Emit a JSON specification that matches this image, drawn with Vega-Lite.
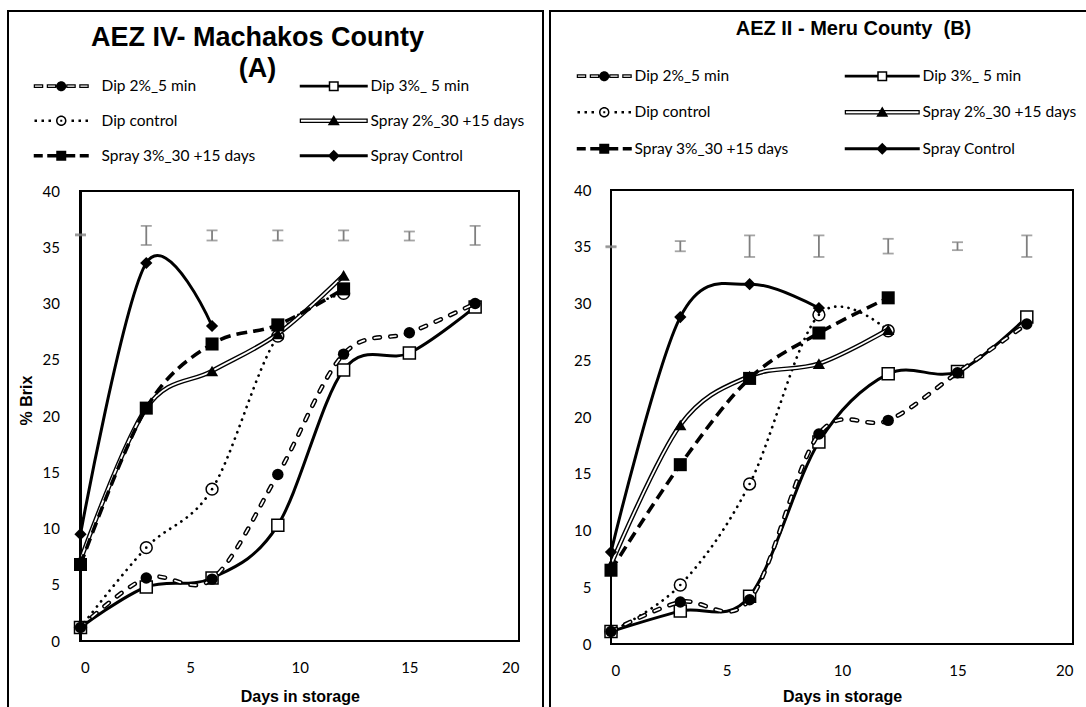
{
  "$schema": "https://vega.github.io/schema/vega-lite/v6.json",
  "padding": {"left": 7, "top": 10, "right": 0, "bottom": 0},
  "spacing": 5,
  "resolve": {"scale": {"shape": "independent"}, "legend": {"shape": "independent"}},
  "datasets": {
    "machakos": [
      {"series": "Dip 2%_5 min", "day": 0, "brix": 1.2},
      {"series": "Dip 2%_5 min", "day": 3, "brix": 5.6},
      {"series": "Dip 2%_5 min", "day": 6, "brix": 5.5},
      {"series": "Dip 2%_5 min", "day": 9, "brix": 14.8},
      {"series": "Dip 2%_5 min", "day": 12, "brix": 25.5},
      {"series": "Dip 2%_5 min", "day": 15, "brix": 27.4},
      {"series": "Dip 2%_5 min", "day": 18, "brix": 30.0},
      {"series": "Dip 3%_ 5 min", "day": 0, "brix": 1.2},
      {"series": "Dip 3%_ 5 min", "day": 3, "brix": 4.8},
      {"series": "Dip 3%_ 5 min", "day": 6, "brix": 5.6},
      {"series": "Dip 3%_ 5 min", "day": 9, "brix": 10.3},
      {"series": "Dip 3%_ 5 min", "day": 12, "brix": 24.1},
      {"series": "Dip 3%_ 5 min", "day": 15, "brix": 25.6},
      {"series": "Dip 3%_ 5 min", "day": 18, "brix": 29.7},
      {"series": "Dip control", "day": 0, "brix": 1.2},
      {"series": "Dip control", "day": 3, "brix": 8.3},
      {"series": "Dip control", "day": 6, "brix": 13.5},
      {"series": "Dip control", "day": 9, "brix": 27.1},
      {"series": "Dip control", "day": 12, "brix": 30.9},
      {"series": "Spray 2%_30 +15 days", "day": 0, "brix": 7.2},
      {"series": "Spray 2%_30 +15 days", "day": 3, "brix": 20.7},
      {"series": "Spray 2%_30 +15 days", "day": 6, "brix": 24.0},
      {"series": "Spray 2%_30 +15 days", "day": 9, "brix": 27.3},
      {"series": "Spray 2%_30 +15 days", "day": 12, "brix": 32.5},
      {"series": "Spray 3%_30 +15 days", "day": 0, "brix": 6.8},
      {"series": "Spray 3%_30 +15 days", "day": 3, "brix": 20.7},
      {"series": "Spray 3%_30 +15 days", "day": 6, "brix": 26.4},
      {"series": "Spray 3%_30 +15 days", "day": 9, "brix": 28.1},
      {"series": "Spray 3%_30 +15 days", "day": 12, "brix": 31.3},
      {"series": "Spray Control", "day": 0, "brix": 9.5},
      {"series": "Spray Control", "day": 3, "brix": 33.6},
      {"series": "Spray Control", "day": 6, "brix": 28.0}
    ],
    "machakos_err": [
      {"day": 0, "low": 36.05, "high": 36.15},
      {"day": 3, "low": 35.2, "high": 36.9},
      {"day": 6, "low": 35.6, "high": 36.5},
      {"day": 9, "low": 35.6, "high": 36.5},
      {"day": 12, "low": 35.6, "high": 36.5},
      {"day": 15, "low": 35.6, "high": 36.4},
      {"day": 18, "low": 35.2, "high": 36.9}
    ],
    "meru": [
      {"series": "Dip 2%_5 min", "day": 0, "brix": 1.1},
      {"series": "Dip 2%_5 min", "day": 3, "brix": 3.7},
      {"series": "Dip 2%_5 min", "day": 6, "brix": 3.9},
      {"series": "Dip 2%_5 min", "day": 9, "brix": 18.5},
      {"series": "Dip 2%_5 min", "day": 12, "brix": 19.7},
      {"series": "Dip 2%_5 min", "day": 15, "brix": 23.9},
      {"series": "Dip 2%_5 min", "day": 18, "brix": 28.2},
      {"series": "Dip 3%_ 5 min", "day": 0, "brix": 1.1},
      {"series": "Dip 3%_ 5 min", "day": 3, "brix": 2.9},
      {"series": "Dip 3%_ 5 min", "day": 6, "brix": 4.2},
      {"series": "Dip 3%_ 5 min", "day": 9, "brix": 17.8},
      {"series": "Dip 3%_ 5 min", "day": 12, "brix": 23.8},
      {"series": "Dip 3%_ 5 min", "day": 15, "brix": 24.0},
      {"series": "Dip 3%_ 5 min", "day": 18, "brix": 28.8},
      {"series": "Dip control", "day": 0, "brix": 1.1},
      {"series": "Dip control", "day": 3, "brix": 5.2},
      {"series": "Dip control", "day": 6, "brix": 14.1},
      {"series": "Dip control", "day": 9, "brix": 29.0},
      {"series": "Dip control", "day": 12, "brix": 27.6},
      {"series": "Spray 2%_30 +15 days", "day": 0, "brix": 7.0},
      {"series": "Spray 2%_30 +15 days", "day": 3, "brix": 19.3},
      {"series": "Spray 2%_30 +15 days", "day": 6, "brix": 23.6},
      {"series": "Spray 2%_30 +15 days", "day": 9, "brix": 24.7},
      {"series": "Spray 2%_30 +15 days", "day": 12, "brix": 27.7},
      {"series": "Spray 3%_30 +15 days", "day": 0, "brix": 6.5},
      {"series": "Spray 3%_30 +15 days", "day": 3, "brix": 15.8},
      {"series": "Spray 3%_30 +15 days", "day": 6, "brix": 23.4},
      {"series": "Spray 3%_30 +15 days", "day": 9, "brix": 27.4},
      {"series": "Spray 3%_30 +15 days", "day": 12, "brix": 30.5},
      {"series": "Spray Control", "day": 0, "brix": 8.1},
      {"series": "Spray Control", "day": 3, "brix": 28.8},
      {"series": "Spray Control", "day": 6, "brix": 31.7},
      {"series": "Spray Control", "day": 9, "brix": 29.6}
    ],
    "meru_err": [
      {"day": 0, "low": 34.95, "high": 35.05},
      {"day": 3, "low": 34.6, "high": 35.5},
      {"day": 6, "low": 34.1, "high": 36.0},
      {"day": 9, "low": 34.1, "high": 36.0},
      {"day": 12, "low": 34.4, "high": 35.7},
      {"day": 15, "low": 34.7, "high": 35.4},
      {"day": 18, "low": 34.1, "high": 36.0}
    ]
  },
  "hconcat": [
    {
      "width": 535,
      "height": 700,
      "title": {"text": ["AEZ IV- Machakos County", "(A)"], "frame": "group", "anchor": "middle", "offset": -72, "dx": -18, "fontSize": 27, "lineHeight": 31, "font": "Liberation Sans", "fontWeight": "bold", "color": "black"},
      "data": {"name": "machakos"},
      "encoding": {
        "x": {"field": "day", "type": "quantitative",
              "scale": {"domain": [0, 20], "range": [72.5, 511], "nice": false, "zero": false},
              "axis": {"orient": "bottom", "offset": -70, "values": [0, 5, 10, 15, 20], "labelPadding": 19, "title": "Days in storage", "titlePadding": 13}},
        "y": {"field": "brix", "type": "quantitative",
              "scale": {"domain": [0, 40], "range": [630, 180], "nice": false},
              "axis": {"orient": "left", "offset": -72.5, "values": [0, 5, 10, 15, 20, 25, 30, 35, 40], "labelPadding": 21, "title": "% Brix", "titlePadding": 8, "titleY": 389}}
      },
      "layer": [
        {"mark": {"type": "rect", "fillOpacity": 0, "stroke": "black", "strokeWidth": 2},
         "encoding": {
           "x": {"datum": 0, "type": "quantitative", "scale": {"domain": [0, 20], "range": [72.5, 511], "nice": false, "zero": false},
                 "axis": {"orient": "bottom", "offset": -70, "values": [0, 5, 10, 15, 20], "labelPadding": 19, "title": "Days in storage", "titlePadding": 13}},
           "x2": {"datum": 20},
           "y": {"datum": 0, "type": "quantitative", "scale": {"domain": [0, 40], "range": [630, 180], "nice": false},
                 "axis": {"orient": "left", "offset": -72.5, "values": [0, 5, 10, 15, 20, 25, 30, 35, 40], "labelPadding": 21, "title": "% Brix", "titlePadding": 8, "titleY": 389}},
           "y2": {"datum": 40}}},
        {"data": {"name": "machakos_err"}, "mark": {"type": "rule", "color": "#7f7f7f", "strokeWidth": 1.8},
         "encoding": {"y": {"field": "low", "type": "quantitative", "scale": {"domain": [0, 40], "range": [630, 180], "nice": false},
                            "axis": {"orient": "left", "offset": -72.5, "values": [0, 5, 10, 15, 20, 25, 30, 35, 40], "labelPadding": 21, "title": "% Brix", "titlePadding": 8, "titleY": 389}},
                      "y2": {"field": "high"}}},
        {"data": {"name": "machakos_err"}, "mark": {"type": "tick", "orient": "horizontal", "color": "#7f7f7f", "size": 11, "thickness": 1.8},
         "encoding": {"y": {"field": "low", "type": "quantitative", "scale": {"domain": [0, 40], "range": [630, 180], "nice": false},
                            "axis": {"orient": "left", "offset": -72.5, "values": [0, 5, 10, 15, 20, 25, 30, 35, 40], "labelPadding": 21, "title": "% Brix", "titlePadding": 8, "titleY": 389}}}},
        {"data": {"name": "machakos_err"}, "mark": {"type": "tick", "orient": "horizontal", "color": "#7f7f7f", "size": 11, "thickness": 1.8},
         "encoding": {"y": {"field": "high", "type": "quantitative", "scale": {"domain": [0, 40], "range": [630, 180], "nice": false},
                            "axis": {"orient": "left", "offset": -72.5, "values": [0, 5, 10, 15, 20, 25, 30, 35, 40], "labelPadding": 21, "title": "% Brix", "titlePadding": 8, "titleY": 389}}}},

        {"transform": [{"filter": "datum.series === 'Dip control'"}], "mark": {"type": "line", "interpolate": "cardinal", "stroke": "black", "strokeWidth": 2.7, "strokeDash": [0.1, 6.6], "strokeCap": "round"}, "encoding": {}},
        {"transform": [{"filter": "datum.series === 'Dip control'"}], "mark": {"type": "point", "shape": "circle", "filled": true, "fill": "white", "stroke": "black", "strokeWidth": 1.5, "size": 140, "opacity": 1}, "encoding": {}},
        {"transform": [{"filter": "datum.series === 'Dip control'"}], "mark": {"type": "point", "shape": "circle", "filled": true, "fill": "black", "size": 7, "opacity": 1}, "encoding": {}},

        {"transform": [{"filter": "datum.series === 'Dip 3%_ 5 min'"}], "mark": {"type": "line", "interpolate": "cardinal", "stroke": "black", "strokeWidth": 3}, "encoding": {}},
        {"transform": [{"filter": "datum.series === 'Dip 3%_ 5 min'"}], "mark": {"type": "point", "shape": "square", "filled": true, "fill": "white", "stroke": "black", "strokeWidth": 1.5, "size": 144, "opacity": 1}, "encoding": {}},

        {"transform": [{"filter": "datum.series === 'Dip 2%_5 min'"}], "mark": {"type": "line", "interpolate": "cardinal", "stroke": "black", "strokeWidth": 4.6, "strokeDash": [5.6, 10.4], "strokeCap": "round"}, "encoding": {}},
        {"transform": [{"filter": "datum.series === 'Dip 2%_5 min'"}], "mark": {"type": "line", "interpolate": "cardinal", "stroke": "white", "strokeWidth": 1.7, "strokeDash": [5.6, 10.4], "strokeCap": "round"}, "encoding": {}},
        {"transform": [{"filter": "datum.series === 'Dip 2%_5 min'"}], "mark": {"type": "point", "shape": "circle", "filled": true, "fill": "black", "size": 130, "opacity": 1}, "encoding": {}},

        {"transform": [{"filter": "datum.series === 'Spray 2%_30 +15 days'"}], "mark": {"type": "line", "interpolate": "cardinal", "stroke": "black", "strokeWidth": 4.6}, "encoding": {}},
        {"transform": [{"filter": "datum.series === 'Spray 2%_30 +15 days'"}], "mark": {"type": "line", "interpolate": "cardinal", "stroke": "white", "strokeWidth": 1.8}, "encoding": {}},
        {"transform": [{"filter": "datum.series === 'Spray 2%_30 +15 days'"}], "mark": {"type": "point", "shape": "triangle-up", "filled": true, "fill": "black", "size": 150, "opacity": 1}, "encoding": {}},

        {"transform": [{"filter": "datum.series === 'Spray 3%_30 +15 days'"}], "mark": {"type": "line", "interpolate": "cardinal", "stroke": "black", "strokeWidth": 3.6, "strokeDash": [11, 6]}, "encoding": {}},
        {"transform": [{"filter": "datum.series === 'Spray 3%_30 +15 days'"}], "mark": {"type": "point", "shape": "square", "filled": true, "fill": "black", "size": 170, "opacity": 1}, "encoding": {}},

        {"transform": [{"filter": "datum.series === 'Spray Control'"}], "mark": {"type": "line", "interpolate": "cardinal", "stroke": "black", "strokeWidth": 3}, "encoding": {}},
        {"transform": [{"filter": "datum.series === 'Spray Control'"}], "mark": {"type": "point", "shape": "diamond", "filled": true, "fill": "black", "size": 150, "opacity": 1}, "encoding": {}},

        {"mark": {"type": "point", "filled": true, "fill": "black", "opacity": 0},
         "encoding": {
           "shape": {"field": "series", "type": "nominal",
             "scale": {"domain": ["Dip 2%_5 min", "Dip control", "Spray 3%_30 +15 days", "Dip 3%_ 5 min", "Spray 2%_30 +15 days", "Spray Control"],
                       "range": [
                         "M-1,-0.38H0.9V0.38H-1ZM-0.76,-0.14V0.14H0.66V-0.14ZM1.6,-0.38H3.5V0.38H1.6ZM1.84,-0.14V0.14H3.26V-0.14ZM5.5,-0.38H7.4V0.38H5.5ZM5.74,-0.14V0.14H7.16V-0.14ZM8.1,-0.38H10V0.38H8.1ZM8.34,-0.14V0.14H9.76V-0.14ZM3.5,0A1,1 0 1,1 5.5,0A1,1 0 1,1 3.5,0Z",
                         "M-0.85,-0.25h0.5v0.5h-0.5zM0.55,-0.25h0.5v0.5h-0.5zM1.95,-0.25h0.5v0.5h-0.5zM6.55,-0.25h0.5v0.5h-0.5zM7.95,-0.25h0.5v0.5h-0.5zM9.35,-0.25h0.5v0.5h-0.5zM4.3,-0.2h0.4v0.4h-0.4zM3.45,0A1.05,1.05 0 1,1 5.55,0A1.05,1.05 0 1,1 3.45,0ZM3.75,0A0.75,0.75 0 1,0 5.25,0A0.75,0.75 0 1,0 3.75,0Z",
                         "M-1,-0.35H0.8V0.35H-1ZM1.7,-0.35H3.5V0.35H1.7ZM5.5,-0.35H7.3V0.35H5.5ZM8.2,-0.35H10V0.35H8.2ZM3.5,-1H5.5V1H3.5Z",
                         "M-1.6,-0.27H4.2V0.27H-1.6ZM6.2,-0.27H12V0.27H6.2ZM4.2,-1H6.2V1H4.2ZM4.5,-0.7V0.7H5.9V-0.7Z",
                         "M-1.6,-0.45H12V0.45H-1.6ZM-1.35,-0.2V0.2H11.75V-0.2ZM5.2,-1.15L6.4,0.9L4,0.9Z",
                         "M-1.6,-0.28H12V0.28H-1.6ZM5.2,-1.2L6.4,0L5.2,1.2L4,0Z"
                       ]},
             "legend": {"title": null, "orient": "none", "legendX": 23, "legendY": 67, "columns": 2, "columnPadding": 43, "rowPadding": 18, "padding": 0, "symbolSize": 100, "symbolOpacity": 1, "symbolFillColor": "black", "symbolStrokeWidth": 0, "labelOffset": 55, "labelFont": "Lato", "labelFontSize": 15.5, "labelColor": "black", "labelLimit": 400, "gridAlign": "all"}}
         }}
      ]
    },
    {
      "width": 545,
      "height": 700,
      "title": {"text": "AEZ II - Meru County \u00a0(B)", "frame": "group", "anchor": "middle", "offset": -27.5, "dx": 31, "fontSize": 20, "font": "Liberation Sans", "fontWeight": "bold", "color": "black"},
      "data": {"name": "meru"},
      "encoding": {
        "x": {"field": "day", "type": "quantitative",
              "scale": {"domain": [0, 20], "range": [61, 523], "nice": false, "zero": false},
              "axis": {"orient": "bottom", "offset": -67, "values": [0, 5, 10, 15, 20], "labelPadding": 19, "title": "Days in storage", "titlePadding": 10}},
        "y": {"field": "brix", "type": "quantitative",
              "scale": {"domain": [0, 40], "range": [633, 179], "nice": false},
              "axis": {"orient": "left", "offset": -61, "values": [0, 5, 10, 15, 20, 25, 30, 35, 40], "labelPadding": 20, "title": null}}
      },
      "layer": [
        {"mark": {"type": "rect", "fillOpacity": 0, "stroke": "black", "strokeWidth": 2},
         "encoding": {
           "x": {"datum": 0, "type": "quantitative", "scale": {"domain": [0, 20], "range": [61, 523], "nice": false, "zero": false},
                 "axis": {"orient": "bottom", "offset": -67, "values": [0, 5, 10, 15, 20], "labelPadding": 19, "title": "Days in storage", "titlePadding": 10}},
           "x2": {"datum": 20},
           "y": {"datum": 0, "type": "quantitative", "scale": {"domain": [0, 40], "range": [633, 179], "nice": false},
                 "axis": {"orient": "left", "offset": -61, "values": [0, 5, 10, 15, 20, 25, 30, 35, 40], "labelPadding": 20, "title": null}},
           "y2": {"datum": 40}}},
        {"data": {"name": "meru_err"}, "mark": {"type": "rule", "color": "#7f7f7f", "strokeWidth": 1.8},
         "encoding": {"y": {"field": "low", "type": "quantitative", "scale": {"domain": [0, 40], "range": [633, 179], "nice": false},
                            "axis": {"orient": "left", "offset": -61, "values": [0, 5, 10, 15, 20, 25, 30, 35, 40], "labelPadding": 20, "title": null}},
                      "y2": {"field": "high"}}},
        {"data": {"name": "meru_err"}, "mark": {"type": "tick", "orient": "horizontal", "color": "#7f7f7f", "size": 11, "thickness": 1.8},
         "encoding": {"y": {"field": "low", "type": "quantitative", "scale": {"domain": [0, 40], "range": [633, 179], "nice": false},
                            "axis": {"orient": "left", "offset": -61, "values": [0, 5, 10, 15, 20, 25, 30, 35, 40], "labelPadding": 20, "title": null}}}},
        {"data": {"name": "meru_err"}, "mark": {"type": "tick", "orient": "horizontal", "color": "#7f7f7f", "size": 11, "thickness": 1.8},
         "encoding": {"y": {"field": "high", "type": "quantitative", "scale": {"domain": [0, 40], "range": [633, 179], "nice": false},
                            "axis": {"orient": "left", "offset": -61, "values": [0, 5, 10, 15, 20, 25, 30, 35, 40], "labelPadding": 20, "title": null}}}},

        {"transform": [{"filter": "datum.series === 'Dip control'"}], "mark": {"type": "line", "interpolate": "cardinal", "stroke": "black", "strokeWidth": 2.7, "strokeDash": [0.1, 6.6], "strokeCap": "round"}, "encoding": {}},
        {"transform": [{"filter": "datum.series === 'Dip control'"}], "mark": {"type": "point", "shape": "circle", "filled": true, "fill": "white", "stroke": "black", "strokeWidth": 1.5, "size": 140, "opacity": 1}, "encoding": {}},
        {"transform": [{"filter": "datum.series === 'Dip control'"}], "mark": {"type": "point", "shape": "circle", "filled": true, "fill": "black", "size": 7, "opacity": 1}, "encoding": {}},

        {"transform": [{"filter": "datum.series === 'Dip 3%_ 5 min'"}], "mark": {"type": "line", "interpolate": "cardinal", "stroke": "black", "strokeWidth": 3}, "encoding": {}},
        {"transform": [{"filter": "datum.series === 'Dip 3%_ 5 min'"}], "mark": {"type": "point", "shape": "square", "filled": true, "fill": "white", "stroke": "black", "strokeWidth": 1.5, "size": 144, "opacity": 1}, "encoding": {}},

        {"transform": [{"filter": "datum.series === 'Dip 2%_5 min'"}], "mark": {"type": "line", "interpolate": "cardinal", "stroke": "black", "strokeWidth": 4.6, "strokeDash": [5.6, 10.4], "strokeCap": "round"}, "encoding": {}},
        {"transform": [{"filter": "datum.series === 'Dip 2%_5 min'"}], "mark": {"type": "line", "interpolate": "cardinal", "stroke": "white", "strokeWidth": 1.7, "strokeDash": [5.6, 10.4], "strokeCap": "round"}, "encoding": {}},
        {"transform": [{"filter": "datum.series === 'Dip 2%_5 min'"}], "mark": {"type": "point", "shape": "circle", "filled": true, "fill": "black", "size": 130, "opacity": 1}, "encoding": {}},

        {"transform": [{"filter": "datum.series === 'Spray 2%_30 +15 days'"}], "mark": {"type": "line", "interpolate": "cardinal", "stroke": "black", "strokeWidth": 4.6}, "encoding": {}},
        {"transform": [{"filter": "datum.series === 'Spray 2%_30 +15 days'"}], "mark": {"type": "line", "interpolate": "cardinal", "stroke": "white", "strokeWidth": 1.8}, "encoding": {}},
        {"transform": [{"filter": "datum.series === 'Spray 2%_30 +15 days'"}], "mark": {"type": "point", "shape": "triangle-up", "filled": true, "fill": "black", "size": 150, "opacity": 1}, "encoding": {}},

        {"transform": [{"filter": "datum.series === 'Spray 3%_30 +15 days'"}], "mark": {"type": "line", "interpolate": "cardinal", "stroke": "black", "strokeWidth": 3.6, "strokeDash": [11, 6]}, "encoding": {}},
        {"transform": [{"filter": "datum.series === 'Spray 3%_30 +15 days'"}], "mark": {"type": "point", "shape": "square", "filled": true, "fill": "black", "size": 170, "opacity": 1}, "encoding": {}},

        {"transform": [{"filter": "datum.series === 'Spray Control'"}], "mark": {"type": "line", "interpolate": "cardinal", "stroke": "black", "strokeWidth": 3}, "encoding": {}},
        {"transform": [{"filter": "datum.series === 'Spray Control'"}], "mark": {"type": "point", "shape": "diamond", "filled": true, "fill": "black", "size": 150, "opacity": 1}, "encoding": {}},

        {"mark": {"type": "point", "filled": true, "fill": "black", "opacity": 0},
         "encoding": {
           "shape": {"field": "series", "type": "nominal",
             "scale": {"domain": ["Dip 2%_5 min", "Dip control", "Spray 3%_30 +15 days", "Dip 3%_ 5 min", "Spray 2%_30 +15 days", "Spray Control"],
                       "range": [
                         "M-1,-0.38H0.9V0.38H-1ZM-0.76,-0.14V0.14H0.66V-0.14ZM1.6,-0.38H3.5V0.38H1.6ZM1.84,-0.14V0.14H3.26V-0.14ZM5.5,-0.38H7.4V0.38H5.5ZM5.74,-0.14V0.14H7.16V-0.14ZM8.1,-0.38H10V0.38H8.1ZM8.34,-0.14V0.14H9.76V-0.14ZM3.5,0A1,1 0 1,1 5.5,0A1,1 0 1,1 3.5,0Z",
                         "M-0.85,-0.25h0.5v0.5h-0.5zM0.55,-0.25h0.5v0.5h-0.5zM1.95,-0.25h0.5v0.5h-0.5zM6.55,-0.25h0.5v0.5h-0.5zM7.95,-0.25h0.5v0.5h-0.5zM9.35,-0.25h0.5v0.5h-0.5zM4.3,-0.2h0.4v0.4h-0.4zM3.45,0A1.05,1.05 0 1,1 5.55,0A1.05,1.05 0 1,1 3.45,0ZM3.75,0A0.75,0.75 0 1,0 5.25,0A0.75,0.75 0 1,0 3.75,0Z",
                         "M-1,-0.35H0.8V0.35H-1ZM1.7,-0.35H3.5V0.35H1.7ZM5.5,-0.35H7.3V0.35H5.5ZM8.2,-0.35H10V0.35H8.2ZM3.5,-1H5.5V1H3.5Z",
                         "M-5,-0.27H1.5V0.27H-5ZM3.5,-0.27H10V0.27H3.5ZM1.5,-1H3.5V1H1.5ZM1.8,-0.7V0.7H3.2V-0.7Z",
                         "M-5,-0.45H10V0.45H-5ZM-4.75,-0.2V0.2H9.75V-0.2ZM2.5,-1.15L3.7,0.9L1.3,0.9Z",
                         "M-5,-0.28H10V0.28H-5ZM2.5,-1.2L3.7,0L2.5,1.2L1.3,0Z"
                       ]},
             "legend": {"title": null, "orient": "none", "legendX": 24, "legendY": 57, "columns": 2, "columnPadding": 55, "rowPadding": 19.5, "padding": 0, "symbolSize": 100, "symbolOpacity": 1, "symbolFillColor": "black", "symbolStrokeWidth": 0, "labelOffset": 45, "labelFont": "Lato", "labelFontSize": 15.5, "labelColor": "black", "labelLimit": 400, "gridAlign": "all"}}
         }}
      ]
    }
  ],
  "config": {
    "view": {"stroke": "black", "strokeWidth": 2},
    "font": "Lato",
    "axis": {"domain": false, "ticks": false, "tickSize": 0, "grid": false, "labelFont": "Lato", "labelFontSize": 15, "labelColor": "black", "titleFont": "Liberation Sans", "titleFontSize": 16, "titleFontWeight": "bold", "titleColor": "black"}
  }
}
